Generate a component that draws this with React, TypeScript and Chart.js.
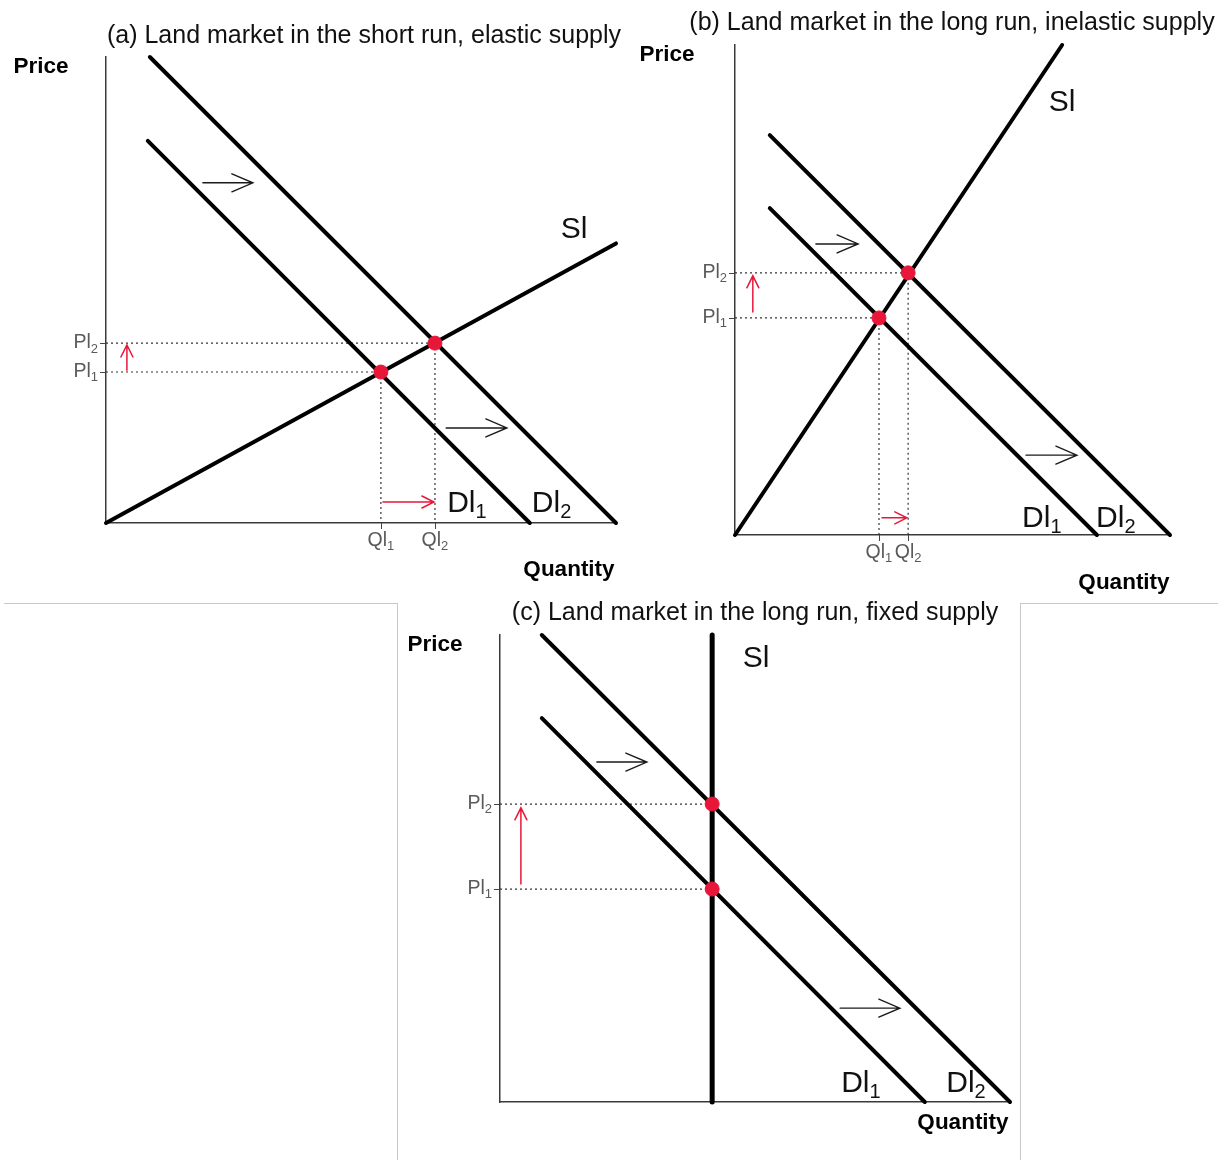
import React, { useEffect, useRef } from 'react';
import { Chart, registerables } from 'chart.js';

Chart.register(...registerables);

type Pt = { x: number; y: number };

const FONT = '"Liberation Sans", Arial, sans-serif';
const RED = '#e8173a';
const INK = '#000000';

// ---- Panel (a): land market in the short run, elastic supply ----
const A_SUPPLY: Pt[] = [{ x: 0, y: 0 }, { x: 100, y: 60 }];
const A_DEMAND1: Pt[] = [{ x: 8.2, y: 82 }, { x: 83.1, y: 0 }];
const A_DEMAND2: Pt[] = [{ x: 8.6, y: 100 }, { x: 100, y: 0 }];
const A_QUANTITY = [53.9, 64.5]; // Ql1, Ql2
const A_PRICE = [32.4, 38.6]; // Pl1, Pl2
const A_SHIFT_ARROWS: Pt[][] = [
  [{ x: 19.0, y: 73.0 }, { x: 28.8, y: 73.0 }],
  [{ x: 66.7, y: 20.4 }, { x: 78.6, y: 20.4 }],
];
const A_RED_ARROWS: Pt[][] = [
  [{ x: 54.3, y: 4.5 }, { x: 64.3, y: 4.5 }],
  [{ x: 4.1, y: 32.8 }, { x: 4.1, y: 38.2 }],
];

// ---- Panel (b): land market in the long run, inelastic supply ----
const B_SUPPLY: Pt[] = [{ x: 0, y: 0 }, { x: 75.2, y: 100 }];
const B_DEMAND1: Pt[] = [{ x: 8.0, y: 66.7 }, { x: 83.2, y: 0 }];
const B_DEMAND2: Pt[] = [{ x: 8.0, y: 81.6 }, { x: 100, y: 0 }];
const B_QUANTITY = [33.1, 39.8];
const B_PRICE = [44.3, 53.5];
const B_SHIFT_ARROWS: Pt[][] = [
  [{ x: 18.6, y: 59.4 }, { x: 28.3, y: 59.4 }],
  [{ x: 66.9, y: 16.3 }, { x: 78.6, y: 16.3 }],
];
const B_RED_ARROWS: Pt[][] = [
  [{ x: 33.8, y: 3.5 }, { x: 39.5, y: 3.5 }],
  [{ x: 4.1, y: 45.5 }, { x: 4.1, y: 52.9 }],
];

// ---- Panel (c): land market in the long run, fixed supply ----
const C_SUPPLY: Pt[] = [{ x: 41.6, y: 0 }, { x: 41.6, y: 100 }];
const C_DEMAND1: Pt[] = [{ x: 8.2, y: 82.2 }, { x: 83.3, y: 0 }];
const C_DEMAND2: Pt[] = [{ x: 8.2, y: 100 }, { x: 100, y: 0 }];
const C_QUANTITY = [41.6, 41.6];
const C_PRICE = [45.6, 63.8];
const C_SHIFT_ARROWS: Pt[][] = [
  [{ x: 19.0, y: 72.8 }, { x: 28.8, y: 72.8 }],
  [{ x: 66.7, y: 20.1 }, { x: 78.4, y: 20.1 }],
];
const C_RED_ARROWS: Pt[][] = [[{ x: 4.1, y: 46.7 }, { x: 4.1, y: 63.0 }]];

const PRICE_TICKS = ['1', '2'];
const QUANTITY_TICKS = ['1', '2'];

interface TextLabel {
  base: string;
  sub?: string;
  at: Pt;
  align: CanvasTextAlign;
}

interface PanelSpec {
  left: number;
  top: number;
  width: number;
  height: number;
  padding: { left: number; top: number; right: number; bottom: number };
  title: string;
  titlePos: [number, number];
  pricePos: [number, number];
  quantityPos: [number, number];
  supply: Pt[];
  supplyWidth: number;
  demand1: Pt[];
  demand2: Pt[];
  quantity: number[];
  price: number[];
  showQuantityTicks: boolean;
  verticalGuides: boolean;
  shiftArrows: Pt[][];
  redArrows: Pt[][];
  labels: TextLabel[];
}

const PANELS: PanelSpec[] = [
  {
    left: 0, top: 0, width: 625, height: 600,
    padding: { left: 106, top: 57, right: 9, bottom: 77 },
    title: '(a) Land market in the short run, elastic supply',
    titlePos: [364, 36], pricePos: [41, 67], quantityPos: [569, 570],
    supply: A_SUPPLY, supplyWidth: 4, demand1: A_DEMAND1, demand2: A_DEMAND2,
    quantity: A_QUANTITY, price: A_PRICE, showQuantityTicks: true, verticalGuides: true,
    shiftArrows: A_SHIFT_ARROWS, redArrows: A_RED_ARROWS,
    labels: [
      { base: 'Sl', at: { x: 91.8, y: 63.0 }, align: 'center' },
      { base: 'Dl', sub: '1', at: { x: 66.9, y: 4.2 }, align: 'left' },
      { base: 'Dl', sub: '2', at: { x: 83.5, y: 4.2 }, align: 'left' },
    ],
  },
  {
    left: 625, top: 0, width: 593, height: 600,
    padding: { left: 110, top: 45, right: 48, bottom: 65 },
    title: '(b) Land market in the long run, inelastic supply',
    titlePos: [327, 23], pricePos: [42, 55], quantityPos: [499, 583],
    supply: B_SUPPLY, supplyWidth: 4, demand1: B_DEMAND1, demand2: B_DEMAND2,
    quantity: B_QUANTITY, price: B_PRICE, showQuantityTicks: true, verticalGuides: true,
    shiftArrows: B_SHIFT_ARROWS, redArrows: B_RED_ARROWS,
    labels: [
      { base: 'Sl', at: { x: 75.2, y: 88.3 }, align: 'center' },
      { base: 'Dl', sub: '1', at: { x: 66.0, y: 3.3 }, align: 'left' },
      { base: 'Dl', sub: '2', at: { x: 83.0, y: 3.3 }, align: 'left' },
    ],
  },
  {
    left: 398, top: 600, width: 620, height: 560,
    padding: { left: 102, top: 35, right: 8, bottom: 58 },
    title: '(c) Land market in the long run, fixed supply',
    titlePos: [357, 13], pricePos: [37, 45], quantityPos: [565, 523],
    supply: C_SUPPLY, supplyWidth: 5, demand1: C_DEMAND1, demand2: C_DEMAND2,
    quantity: C_QUANTITY, price: C_PRICE, showQuantityTicks: false, verticalGuides: false,
    shiftArrows: C_SHIFT_ARROWS, redArrows: C_RED_ARROWS,
    labels: [
      { base: 'Sl', at: { x: 50.2, y: 95.0 }, align: 'center' },
      { base: 'Dl', sub: '1', at: { x: 66.9, y: 4.0 }, align: 'left' },
      { base: 'Dl', sub: '2', at: { x: 87.5, y: 4.0 }, align: 'left' },
    ],
  },
];

function drawSubText(
  ctx: CanvasRenderingContext2D,
  base: string,
  sub: string | undefined,
  x: number,
  y: number,
  size: number,
  align: CanvasTextAlign,
  color: string,
) {
  const subSize = Math.round(size * 0.66);
  ctx.font = `${size}px ${FONT}`;
  const wb = ctx.measureText(base).width;
  ctx.font = `${subSize}px ${FONT}`;
  const ws = sub ? ctx.measureText(sub).width : 0;
  const total = wb + ws;
  const left = align === 'left' ? x : align === 'right' ? x - total : x - total / 2;
  ctx.textAlign = 'left';
  ctx.textBaseline = 'middle';
  ctx.fillStyle = color;
  ctx.font = `${size}px ${FONT}`;
  ctx.fillText(base, left, y);
  if (sub) {
    ctx.font = `${subSize}px ${FONT}`;
    ctx.fillText(sub, left + wb, y + size * 0.3);
  }
}

function drawArrow(
  ctx: CanvasRenderingContext2D,
  x0: number, y0: number, x1: number, y1: number,
  color: string, width: number, headLen: number, headHalf: number,
) {
  const ang = Math.atan2(y1 - y0, x1 - x0);
  const ux = Math.cos(ang);
  const uy = Math.sin(ang);
  ctx.save();
  ctx.strokeStyle = color;
  ctx.lineWidth = width;
  ctx.lineCap = 'round';
  ctx.beginPath();
  ctx.moveTo(x0, y0);
  ctx.lineTo(x1, y1);
  ctx.moveTo(x1 - ux * headLen - uy * headHalf, y1 - uy * headLen + ux * headHalf);
  ctx.lineTo(x1, y1);
  ctx.lineTo(x1 - ux * headLen + uy * headHalf, y1 - uy * headLen - ux * headHalf);
  ctx.stroke();
  ctx.restore();
}

function Panel({ spec }: { spec: PanelSpec }) {
  const ref = useRef<HTMLCanvasElement | null>(null);

  useEffect(() => {
    const canvas = ref.current;
    if (!canvas) return;

    const overlay = {
      id: 'landMarketOverlay',
      afterDatasetsDraw(chart: Chart) {
        const ctx = chart.ctx;
        const xs = chart.scales.x;
        const ys = chart.scales.y;
        const area = chart.chartArea;
        const px = (v: number) => xs.getPixelForValue(v);
        const py = (v: number) => ys.getPixelForValue(v);

        ctx.save();
        // tick marks on the axes
        ctx.strokeStyle = '#444';
        ctx.lineWidth = 1;
        ctx.beginPath();
        spec.price.forEach((p) => {
          const y = Math.round(py(p)) + 0.5;
          ctx.moveTo(area.left - 6, y);
          ctx.lineTo(area.left, y);
        });
        if (spec.showQuantityTicks) {
          spec.quantity.forEach((q) => {
            const x = Math.round(px(q)) + 0.5;
            ctx.moveTo(x, area.bottom);
            ctx.lineTo(x, area.bottom + 6);
          });
        }
        ctx.stroke();

        // tick labels
        spec.price.forEach((p, i) => {
          drawSubText(ctx, 'Pl', PRICE_TICKS[i], area.left - 8, py(p), 19.5, 'right', '#5a5a5a');
        });
        if (spec.showQuantityTicks) {
          spec.quantity.forEach((q, i) => {
            drawSubText(ctx, 'Ql', QUANTITY_TICKS[i], px(q), area.bottom + 18, 19.5, 'center', '#5a5a5a');
          });
        }

        // shift arrows
        spec.shiftArrows.forEach(([a, b]) => {
          drawArrow(ctx, px(a.x), py(a.y), px(b.x), py(b.y), '#1a1a1a', 1.4, 21, 9);
        });
        spec.redArrows.forEach(([a, b]) => {
          drawArrow(ctx, px(a.x), py(a.y), px(b.x), py(b.y), RED, 1.5, 12, 6);
        });

        // curve labels
        spec.labels.forEach((l) => {
          drawSubText(ctx, l.base, l.sub, px(l.at.x), py(l.at.y), 30, l.align, '#111');
        });

        // titles
        ctx.fillStyle = '#111';
        ctx.textAlign = 'center';
        ctx.textBaseline = 'middle';
        ctx.font = `25px ${FONT}`;
        ctx.fillText(spec.title, spec.titlePos[0], spec.titlePos[1]);
        ctx.font = `bold 22.5px ${FONT}`;
        ctx.fillStyle = '#000';
        ctx.fillText('Price', spec.pricePos[0], spec.pricePos[1]);
        ctx.fillText('Quantity', spec.quantityPos[0], spec.quantityPos[1]);
        ctx.restore();
      },
    };

    const guideH = spec.price.map((p, i) => ({
      data: [{ x: 0, y: p }, { x: spec.quantity[i], y: p }],
    }));
    const guideV = spec.verticalGuides
      ? spec.quantity.map((q, i) => ({
          data: [{ x: q, y: spec.price[i] }, { x: q, y: 0 }],
        }))
      : [];

    const guides = [...guideH, ...guideV].map((g) => ({
      type: 'line' as const,
      data: g.data,
      borderColor: '#333',
      borderWidth: 1.2,
      borderDash: [2, 3],
      pointRadius: 0,
      order: 3,
      clip: false as const,
    }));

    const curve = (data: Pt[], width: number) => ({
      type: 'line' as const,
      data,
      borderColor: INK,
      borderWidth: width,
      borderCapStyle: 'round' as const,
      pointRadius: 0,
      order: 2,
      clip: false as const,
    });

    const chart = new Chart(canvas, {
      type: 'line',
      data: {
        datasets: [
          {
            type: 'scatter',
            data: spec.quantity.map((q, i) => ({ x: q, y: spec.price[i] })),
            backgroundColor: RED,
            borderColor: RED,
            pointRadius: 7,
            pointHoverRadius: 7,
            order: 0,
            clip: false,
          },
          curve(spec.supply, spec.supplyWidth),
          curve(spec.demand1, 4),
          curve(spec.demand2, 4),
          ...guides,
        ] as any,
      },
      options: {
        animation: false,
        responsive: false,
        events: [],
        layout: { padding: spec.padding },
        plugins: { legend: { display: false }, tooltip: { enabled: false } },
        scales: {
          x: {
            type: 'linear',
            min: 0,
            max: 100,
            grid: { display: false, drawTicks: false },
            ticks: { display: false },
            border: { display: true, color: '#3a3a3a', width: 1.5 },
            afterFit: (s: any) => {
              s.height = 0;
            },
          },
          y: {
            type: 'linear',
            min: 0,
            max: 100,
            grid: { display: false, drawTicks: false },
            ticks: { display: false },
            border: { display: true, color: '#3a3a3a', width: 1.5 },
            afterFit: (s: any) => {
              s.width = 0;
            },
          },
        },
      },
      plugins: [overlay],
    });

    return () => chart.destroy();
  }, [spec]);

  return (
    <canvas
      ref={ref}
      width={spec.width}
      height={spec.height}
      style={{
        position: 'absolute',
        left: spec.left,
        top: spec.top,
        width: spec.width,
        height: spec.height,
      }}
    />
  );
}

export default function App() {
  return (
    <div
      style={{
        position: 'absolute',
        left: 0,
        top: 0,
        width: 1218,
        height: 1160,
        background: '#ffffff',
        overflow: 'hidden',
      }}
    >
      {/* frame lines around the lower panel */}
      <div
        style={{
          position: 'absolute',
          left: 4,
          top: 603,
          width: 393,
          height: 560,
          borderTop: '1px solid #c8c8c8',
          borderRight: '1px solid #c8c8c8',
        }}
      />
      <div
        style={{
          position: 'absolute',
          left: 1020,
          top: 603,
          width: 200,
          height: 560,
          borderTop: '1px solid #c8c8c8',
          borderLeft: '1px solid #c8c8c8',
        }}
      />
      {PANELS.map((p, i) => (
        <Panel key={i} spec={p} />
      ))}
    </div>
  );
}
